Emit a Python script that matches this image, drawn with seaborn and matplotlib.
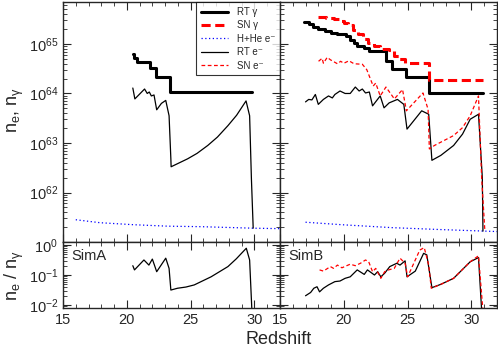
import numpy as np
import matplotlib
matplotlib.use("Agg")
import matplotlib.pyplot as plt
import seaborn as sns
from matplotlib.ticker import LogLocator, MultipleLocator, NullFormatter

# ---- SimA (left) : log10 of counts vs redshift ----
simA_rt_gam_z = [20.5, 20.6, 20.8, 21.8, 22.3, 23.4, 29.8]
simA_rt_gam_log = [64.80, 64.72, 64.64, 64.52, 64.34, 64.02, 64.02]

simA_rt_e_z = [20.47, 20.63, 21.39, 21.6, 21.76, 21.92, 22.13, 22.34, 22.71, 23.05, 23.31, 23.45, 23.47,
               24.76, 25.5, 26.34, 27.1, 27.92, 28.6, 29.34, 29.62, 29.76, 29.9]
simA_rt_e_log = [64.11, 63.89, 64.09, 64.00, 64.03, 63.95, 63.97, 63.67, 63.80, 63.86, 63.55, 62.68, 62.52,
                 62.68, 62.79, 62.95, 63.12, 63.35, 63.56, 63.85, 63.55, 62.28, 61.28]

simA_hhe_z = [16.0, 17.9, 20.5, 23.2, 25.8, 29.8, 32.0]
simA_hhe_log = [61.45, 61.39, 61.35, 61.32, 61.31, 61.28, 61.27]

simA_ratio_z = [20.47, 20.6, 21.34, 21.73, 22.0, 22.34, 23.05, 23.31, 23.45, 23.97, 24.63, 25.28, 26.6,
                27.92, 28.58, 29.36, 29.62, 29.8]
simA_ratio_log = [-0.69, -0.83, -0.50, -0.67, -0.47, -0.89, -0.44, -0.78, -1.50, -1.44, -1.40, -1.33,
                  -1.06, -0.72, -0.46, -0.11, -0.50, -2.2]

# ---- SimB (right) ----
simB_rt_gam_z = [16.9, 17.3, 17.6, 18.0, 18.5, 19.0, 19.5, 19.8, 20.2, 20.5, 20.8, 21.0, 21.6, 22.0,
                 23.3, 23.8, 24.9, 26.7, 30.9]
simB_rt_gam_log = [65.45, 65.40, 65.35, 65.31, 65.27, 65.22, 65.21, 65.20, 65.16, 65.08, 65.02, 64.95,
                   64.91, 64.85, 64.65, 64.49, 64.33, 64.01, 64.01]

simB_sn_gam_z = [18.0, 18.6, 19.2, 19.6, 20.0, 20.3, 20.7, 21.1, 21.5, 21.9, 22.4, 22.8, 23.5, 23.9,
                 24.3, 24.8, 26.7, 30.9]
simB_sn_gam_log = [65.55, 65.53, 65.50, 65.47, 65.42, 65.38, 65.28, 65.21, 65.11, 65.01, 64.95, 64.89,
                   64.88, 64.75, 64.70, 64.61, 64.28, 64.28]

simB_rt_e_z = [17.0, 17.25, 17.5, 17.77, 18.0, 18.4, 18.8, 19.1, 19.3, 19.7, 20.1, 20.5, 20.9, 21.2,
               21.45, 21.7, 22.0, 22.25, 22.85, 23.15, 23.55, 24.2, 24.7, 24.95, 26.1, 26.65, 26.9,
               27.6, 28.6, 29.3, 29.9, 30.55, 30.85, 30.9]
simB_rt_e_log = [63.83, 63.88, 63.87, 63.98, 63.78, 63.88, 63.95, 63.91, 63.98, 64.05, 64.00, 64.00,
                 64.13, 64.05, 64.09, 64.01, 64.03, 63.75, 63.95, 63.71, 63.81, 63.88, 63.78, 63.28,
                 63.65, 63.58, 62.65, 62.75, 62.95, 63.18, 63.48, 63.58, 62.30, 61.22]

simB_sn_e_z = [18.02, 18.3, 18.4, 18.7, 18.95, 19.5, 19.75, 20.0, 20.4, 20.8, 21.45, 21.8, 22.3,
               22.5, 22.85, 23.3, 23.96, 24.6, 24.9, 26.2, 26.6, 26.7, 27.1, 28.6, 29.3, 29.9, 30.55,
               30.8, 31.05]
simB_sn_e_log = [64.65, 64.71, 64.61, 64.73, 64.68, 64.60, 64.65, 64.61, 64.66, 64.60, 64.59, 64.48,
                 64.15, 64.21, 63.95, 64.13, 63.89, 64.08, 63.65, 64.01, 63.68, 62.88, 62.95, 63.15,
                 63.31, 63.55, 63.95, 62.28, 61.22]

simB_hhe_z = [17.0, 19.8, 23.8, 27.75, 32.2]
simB_hhe_log = [61.40, 61.35, 61.29, 61.25, 61.21]

simB_ratio_rt_z = [17.0, 17.4, 17.65, 17.9, 18.1, 18.4, 18.8, 19.3, 19.7, 20.1, 20.5, 21.05, 21.6,
                   21.85, 22.4, 22.65, 22.9, 23.2, 23.6, 24.15, 24.4, 24.8, 24.95, 25.6, 26.25, 26.5,
                   26.9, 27.6, 28.6, 29.9, 30.55, 30.8]
simB_ratio_rt_log = [-1.69, -1.58, -1.44, -1.39, -1.56, -1.44, -1.33, -1.22, -1.20, -1.11, -1.06, -0.83,
                     -0.98, -0.83, -1.00, -0.89, -1.06, -0.94, -0.72, -0.61, -0.67, -0.53, -1.06, -0.87,
                     -0.28, -0.33, -1.42, -1.31, -1.11, -0.56, -0.42, -2.2]

simB_ratio_sn_z = [18.1, 18.4, 18.95, 19.2, 19.5, 19.85, 20.5, 20.9, 21.3, 21.7, 21.95, 22.25, 22.5,
                   22.9, 23.2, 23.5, 23.95, 24.4, 24.8, 25.0, 25.95, 26.3, 26.65, 26.85, 27.6, 28.6,
                   29.9, 30.55, 30.9]
simB_ratio_sn_log = [-0.83, -0.87, -0.72, -0.78, -0.67, -0.76, -0.64, -0.69, -0.61, -0.50, -0.56, -0.89,
                     -0.78, -1.11, -0.89, -0.83, -0.78, -0.44, -0.61, -1.06, -0.17, -0.09, -0.67, -1.44,
                     -1.31, -1.11, -0.56, -0.36, -2.2]

legend_labels = ["RT γ", "SN γ", "H+He e⁻", "RT e⁻", "SN e⁻"]
panel_names = ["SimA", "SimB"]

sns.set_style("ticks")
plt.rcParams['font.family'] = ['Liberation Sans', 'DejaVu Sans']
plt.rcParams['mathtext.fontset'] = 'custom'
plt.rcParams['mathtext.rm'] = 'Liberation Sans'
plt.rcParams['mathtext.it'] = 'Liberation Sans'
plt.rcParams['mathtext.default'] = 'regular'


def line(ax, z, logv, **kw):
    sns.lineplot(x=np.array(z), y=10.0 ** np.array(logv), ax=ax, estimator=None, sort=False, **kw)


fig, axes = plt.subplots(2, 2, figsize=(4.98, 3.52), dpi=100,
                         gridspec_kw={"height_ratios": [240, 66]})
fig.subplots_adjust(left=0.1265, right=0.998, top=0.994, bottom=0.125, wspace=0, hspace=0)

thick = 2.2
thin = 0.9

# top left
ax = axes[0, 0]
line(ax, simA_rt_gam_z, simA_rt_gam_log, color="black", lw=thick, drawstyle="steps-post", label=legend_labels[0])
ax.plot([], [], color="red", lw=thick, ls=(0, (3, 1.5)), label=legend_labels[1])
line(ax, simA_hhe_z, simA_hhe_log, color="blue", lw=thin, ls=(0, (1, 2)), label=legend_labels[2])
line(ax, simA_rt_e_z, simA_rt_e_log, color="black", lw=thin, label=legend_labels[3])
ax.plot([], [], color="red", lw=thin, ls=(0, (3, 2)), label=legend_labels[4])
ax.legend(loc="upper right", fontsize=7, frameon=True, fancybox=False, edgecolor="black",
          borderaxespad=0, handlelength=2.8, labelspacing=0.35, borderpad=0.5, handletextpad=0.9)
ax.get_legend().get_frame().set_linewidth(0.8)

# top right
ax = axes[0, 1]
line(ax, simB_rt_gam_z, simB_rt_gam_log, color="black", lw=thick, drawstyle="steps-post")
line(ax, simB_sn_gam_z, simB_sn_gam_log, color="red", lw=thick, ls=(0, (3, 1.5)), drawstyle="steps-post")
line(ax, simB_hhe_z, simB_hhe_log, color="blue", lw=thin, ls=(0, (1, 2)))
line(ax, simB_rt_e_z, simB_rt_e_log, color="black", lw=thin)
line(ax, simB_sn_e_z, simB_sn_e_log, color="red", lw=thin, ls=(0, (3, 2)))

# bottom
line(axes[1, 0], simA_ratio_z, simA_ratio_log, color="black", lw=thin)
line(axes[1, 1], simB_ratio_rt_z, simB_ratio_rt_log, color="black", lw=thin)
line(axes[1, 1], simB_ratio_sn_z, simB_ratio_sn_log, color="red", lw=thin, ls=(0, (3, 2)))

for j in range(2):
    top = axes[0, j]
    bot = axes[1, j]
    top.set_yscale("log")
    top.set_ylim(1e61, 7e65)
    bot.set_yscale("log")
    bot.set_ylim(8e-3, 1.25)
    bot.text(0.04, 0.9, panel_names[j], transform=bot.transAxes, fontsize=10.5, va="top", ha="left")
    for ax in (top, bot):
        ax.set_xlim(15, 32)
        ax.xaxis.set_major_locator(MultipleLocator(5))
        ax.xaxis.set_minor_locator(MultipleLocator(1))
        ax.yaxis.set_major_locator(LogLocator(base=10, numticks=20))
        ax.yaxis.set_minor_locator(LogLocator(base=10, subs=np.arange(2, 10), numticks=20))
        ax.yaxis.set_minor_formatter(NullFormatter())
        ax.tick_params(which="both", direction="in", top=True, right=True, labelsize=10.5)
        ax.tick_params(which="major", length=6, width=0.8)
        ax.tick_params(which="minor", length=3, width=0.6)
        ax.set_xlabel("")
        ax.set_ylabel("")
        for s in ax.spines.values():
            s.set_linewidth(1.0)
    top.tick_params(labelbottom=False)
    if j == 1:
        top.tick_params(labelleft=False)
        bot.tick_params(labelleft=False)

axes[0, 0].set_yticks([1e62, 1e63, 1e64, 1e65])
axes[0, 0].set_ylim(1e61, 7e65)
axes[0, 0].set_ylabel("n$_e$, n$_γ$", fontsize=13)
axes[1, 0].set_ylabel("n$_e$ / n$_γ$", fontsize=13)
axes[0, 0].yaxis.set_label_coords(-0.17, 0.55)
axes[1, 0].yaxis.set_label_coords(-0.17, 0.5)
fig.text(0.56, 0.01, "Redshift", ha="center", va="bottom", fontsize=13)

plt.savefig("out.png", dpi=100)
